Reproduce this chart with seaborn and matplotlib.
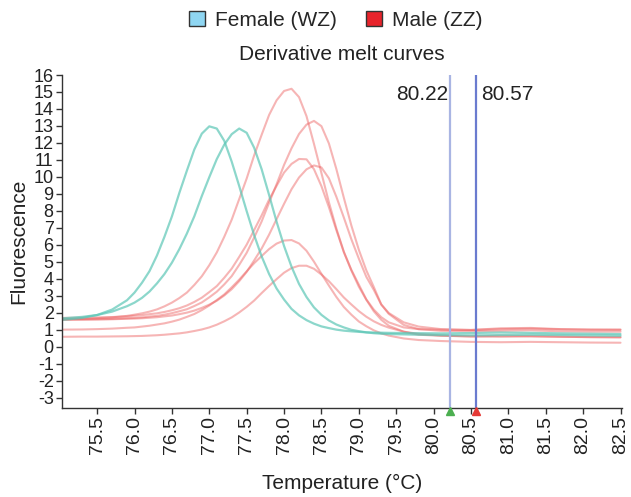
import matplotlib
matplotlib.use("Agg")
import matplotlib.pyplot as plt
import pandas as pd
import seaborn as sns
from matplotlib.patches import Patch

# ---------------- data ----------------
temps = [75.05, 75.3, 75.5, 75.7, 75.9,
         76.0, 76.1, 76.2, 76.3, 76.4, 76.5, 76.6, 76.7, 76.8, 76.9,
         77.0, 77.1, 77.2, 77.3, 77.4, 77.5, 77.6, 77.7, 77.8, 77.9,
         78.0, 78.1, 78.2, 78.3, 78.4, 78.5, 78.6, 78.7, 78.8, 78.9,
         79.0, 79.1, 79.2, 79.3, 79.4,
         79.6, 79.8, 80.1, 80.5, 80.9, 81.3, 81.7, 82.1, 82.5]

female_1 = [1.60, 1.71, 1.88, 2.20, 2.75,
            3.20, 3.78, 4.46, 5.38, 6.48, 7.68, 9.07, 10.37, 11.62, 12.55,
            12.98, 12.85, 12.13, 10.90, 9.47, 7.99, 6.58, 5.33, 4.29, 3.44,
            2.79, 2.24, 1.86, 1.58, 1.37, 1.21, 1.11, 1.02, 0.96, 0.92,
            0.89, 0.86, 0.85, 0.84, 0.83,
            0.82, 0.81, 0.80, 0.82, 0.85, 0.83, 0.80, 0.78, 0.76]
female_2 = [1.69, 1.77, 1.88, 2.08, 2.40,
            2.61, 2.89, 3.26, 3.74, 4.29, 4.96, 5.76, 6.67, 7.69, 8.88,
            9.99, 11.05, 11.90, 12.52, 12.85, 12.60, 11.72, 10.46, 8.94, 7.37,
            5.94, 4.72, 3.71, 2.94, 2.33, 1.89, 1.56, 1.32, 1.15, 1.01,
            0.93, 0.86, 0.81, 0.78, 0.76,
            0.74, 0.72, 0.70, 0.68, 0.70, 0.72, 0.70, 0.68, 0.66]

male_1 = [1.63, 1.65, 1.69, 1.74, 1.83,
          1.90, 1.98, 2.08, 2.21, 2.39, 2.61, 2.88, 3.20, 3.65, 4.16,
          4.81, 5.56, 6.48, 7.49, 8.70, 9.91, 11.27, 12.48, 13.65, 14.51,
          15.06, 15.19, 14.70, 13.58, 11.95, 10.23, 8.51, 6.96, 5.59, 4.54,
          3.67, 2.80, 2.20, 1.75, 1.45,
          1.15, 1.05, 1.02, 1.00, 1.05, 1.08, 1.04, 1.02, 1.03]
male_2 = [1.61, 1.62, 1.63, 1.65, 1.69,
          1.71, 1.74, 1.79, 1.83, 1.90, 1.99, 2.10, 2.22, 2.41, 2.62,
          2.92, 3.25, 3.68, 4.17, 4.83, 5.54, 6.44, 7.38, 8.49, 9.57,
          10.71, 11.69, 12.53, 13.08, 13.30, 12.99, 11.97, 10.46, 8.77, 7.15,
          5.72, 4.51, 3.53, 2.50, 1.95,
          1.30, 1.05, 0.95, 0.93, 0.95, 0.98, 0.92, 0.90, 0.90]
male_3 = [1.71, 1.72, 1.74, 1.76, 1.80,
          1.84, 1.87, 1.93, 1.98, 2.06, 2.16, 2.28, 2.44, 2.65, 2.90,
          3.23, 3.58, 4.07, 4.61, 5.30, 6.02, 6.88, 7.74, 8.67, 9.48,
          10.26, 10.77, 11.06, 11.04, 10.46, 9.46, 8.22, 6.87, 5.58, 4.50,
          3.55, 2.78, 2.10, 1.60, 1.25,
          0.90, 0.72, 0.66, 0.62, 0.60, 0.62, 0.60, 0.58, 0.56]
male_4 = [1.61, 1.61, 1.62, 1.63, 1.66,
          1.67, 1.69, 1.72, 1.75, 1.80, 1.85, 1.93, 2.02, 2.14, 2.30,
          2.49, 2.72, 3.03, 3.40, 3.87, 4.42, 5.09, 5.79, 6.61, 7.52,
          8.42, 9.28, 9.97, 10.45, 10.68, 10.56, 9.92, 8.83, 7.61, 6.34,
          5.20, 4.13, 3.36, 2.50, 2.00,
          1.45, 1.20, 1.05, 1.00, 1.10, 1.12, 1.05, 1.02, 1.00]
male_5 = [1.02, 1.03, 1.05, 1.08, 1.13,
          1.15, 1.20, 1.25, 1.32, 1.39, 1.49, 1.61, 1.77, 1.94, 2.17,
          2.44, 2.76, 3.09, 3.51, 3.96, 4.45, 4.93, 5.35, 5.76, 6.08,
          6.26, 6.29, 6.09, 5.66, 5.02, 4.30, 3.61, 2.94, 2.35, 1.90,
          1.50, 1.22, 0.98, 0.80, 0.67,
          0.50, 0.41, 0.35, 0.30, 0.28, 0.30, 0.28, 0.26, 0.25]
male_6 = [0.60, 0.61, 0.61, 0.62, 0.63,
          0.64, 0.65, 0.67, 0.69, 0.72, 0.76, 0.80, 0.86, 0.94, 1.03,
          1.15, 1.31, 1.51, 1.74, 2.03, 2.36, 2.73, 3.17, 3.59, 3.99,
          4.37, 4.64, 4.78, 4.78, 4.60, 4.26, 3.87, 3.40, 2.91, 2.50,
          2.11, 1.78, 1.51, 1.30, 1.14,
          0.90, 0.77, 0.67, 0.62, 0.66, 0.64, 0.60, 0.58, 0.58]

x_ticks = [75.5, 76.0, 76.5, 77.0, 77.5, 78.0, 78.5, 79.0, 79.5, 80.0,
           80.5, 81.0, 81.5, 82.0, 82.5]
y_ticks = [-3, -2, -1, 0, 1, 2, 3, 4, 5, 6, 7, 8, 9, 10, 11, 12, 13, 14, 15, 16]
marker_temps = [80.22, 80.57]
marker_labels = ["80.22", "80.57"]
legend_labels = ["Female (WZ)", "Male (ZZ)"]

female_series = {"F1": female_1, "F2": female_2}
male_series = {"M1": male_1, "M2": male_2, "M3": male_3,
               "M4": male_4, "M5": male_5, "M6": male_6}


def to_long(series):
    rows = []
    for name, vals in series.items():
        for t, v in zip(temps, vals):
            rows.append({"sample": name, "Temperature": t, "Fluorescence": v})
    return pd.DataFrame(rows)


df_f = to_long(female_series)
df_m = to_long(male_series)

# ---------------- plot ----------------
sns.set_theme(style="ticks")
plt.rcParams["font.family"] = ["Liberation Sans", "DejaVu Sans"]

fig = plt.figure(figsize=(6.31, 4.97), dpi=100)
ax = fig.add_axes([62 / 631, 89 / 497, 560 / 631, 333 / 497])

teal = "#5cc6b6"
red = "#ec5c5c"

sns.lineplot(data=df_m, x="Temperature", y="Fluorescence", units="sample",
             estimator=None, sort=False, color=red, alpha=0.45, lw=1.5, ax=ax)
sns.lineplot(data=df_f, x="Temperature", y="Fluorescence", units="sample",
             estimator=None, sort=False, color=teal, alpha=0.7, lw=1.6, ax=ax)

ax.set_xlim(75.03, 82.52)
ax.set_ylim(-3.59, 16)

ax.set_xticks(x_ticks)
ax.set_xticklabels([f"{v:.1f}" for v in x_ticks], rotation=90, fontsize=14)
ax.set_yticks(y_ticks)
ax.set_yticklabels([str(v) for v in y_ticks], fontsize=13)
ax.tick_params(axis="both", length=4, width=1, color="#333333",
               labelcolor="#222222", pad=2)

for s in ["top", "right"]:
    ax.spines[s].set_visible(False)
for s in ["left", "bottom"]:
    ax.spines[s].set_color("#333333")
    ax.spines[s].set_linewidth(1.0)

ax.set_xlabel("Temperature (°C)", fontsize=15, color="#222222", labelpad=14)
ax.set_ylabel("Fluorescence", fontsize=15, color="#222222", labelpad=4)
ax.set_title("Derivative melt curves", fontsize=15, color="#222222", pad=11)

# melt-temperature markers
line_colors = ["#a9b5e3", "#6a7bcf"]
tri_colors = ["#4caf50", "#e53935"]
for t, c in zip(marker_temps, line_colors):
    ax.axvline(t, color=c, lw=1.6, zorder=3)
for t, c in zip(marker_temps, tri_colors):
    ax.plot([t], [-3.78], marker="^", color=c, ms=6, ls="none", clip_on=False, zorder=4)

ax.text(marker_temps[0] - 0.02, 14.85, marker_labels[0], ha="right", va="center",
        fontsize=15, color="#222222")
ax.text(marker_temps[1] + 0.06, 14.85, marker_labels[1], ha="left", va="center",
        fontsize=15, color="#222222")

handles = [Patch(facecolor="#8fd6f2", edgecolor="#333333", label=legend_labels[0]),
           Patch(facecolor="#e8232b", edgecolor="#333333", label=legend_labels[1])]
fig.legend(handles=handles, loc="center", bbox_to_anchor=(336 / 631, 1 - 20 / 497),
           ncol=2, frameon=False, fontsize=15, handlelength=0.75, handleheight=0.75,
           handletextpad=0.5, columnspacing=1.4)

fig.savefig("out.png", dpi=100)
